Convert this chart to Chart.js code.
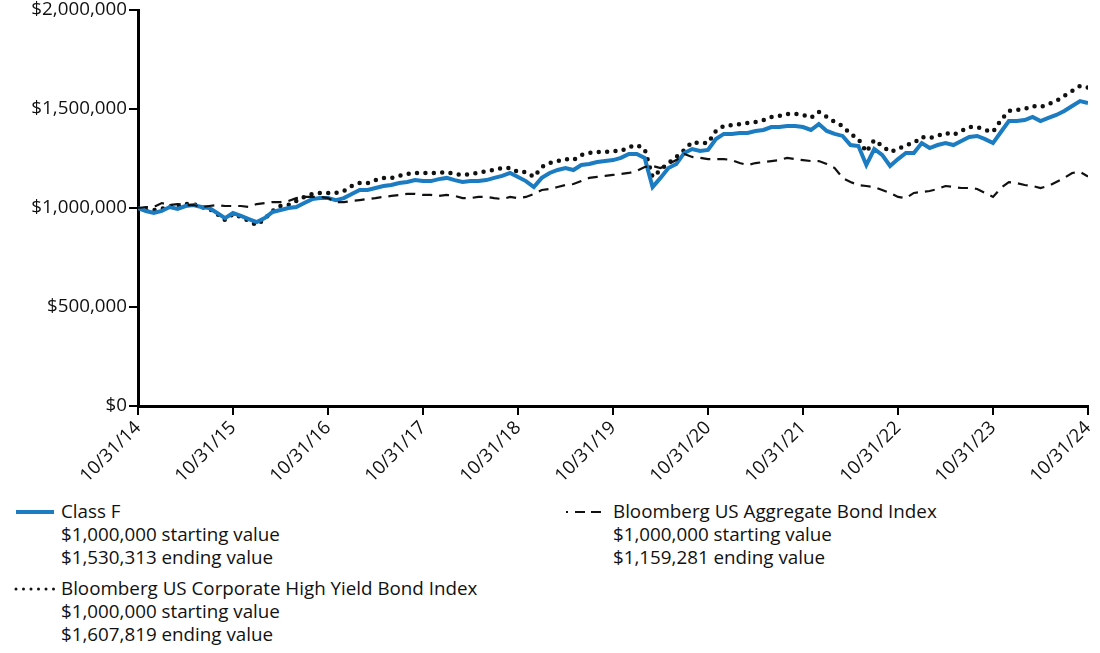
<!DOCTYPE html>
<html>
<head>
<meta charset="utf-8">
<script src="https://cdn.jsdelivr.net/npm/chart.js@4.4.1/dist/chart.umd.min.js"></script>
<style>
  body { margin: 0; background: #fff; font-family: 'Open Sans', sans-serif; }
  #wrap { position: relative; width: 1100px; height: 653px; }
  #chart { position: absolute; left: 0; top: 0; }
  .leg { position: absolute; font-size: 18.8px; line-height: 23px; color: #111; white-space: nowrap; }
  .sample { position: absolute; }
</style>
</head>
<body>
<div id="wrap">
  <canvas id="chart" width="1100" height="480"></canvas>

  <svg class="sample" style="left:0;top:502px" width="70" height="20">
    <line x1="16" y1="10" x2="54" y2="10" stroke="#1b7cc2" stroke-width="4"/>
  </svg>
  <div class="leg" style="left:61px;top:500px">Class F<br>$1,000,000 starting value<br>$1,530,313 ending value</div>

  <svg class="sample" style="left:0;top:579px" width="70" height="20">
    <line x1="16" y1="10" x2="54" y2="10" stroke="#111" stroke-width="3" stroke-linecap="round" stroke-dasharray="0 7.5"/>
  </svg>
  <div class="leg" style="left:61px;top:577px">Bloomberg US Corporate High Yield Bond Index<br>$1,000,000 starting value<br>$1,607,819 ending value</div>

  <svg class="sample" style="left:550px;top:502px" width="70" height="20">
    <line x1="16" y1="10" x2="18" y2="10" stroke="#111" stroke-width="2"/>
    <line x1="25" y1="10" x2="35" y2="10" stroke="#111" stroke-width="2"/>
    <line x1="41" y1="10" x2="51" y2="10" stroke="#111" stroke-width="2"/>
  </svg>
  <div class="leg" style="left:613px;top:500px">Bloomberg US Aggregate Bond Index<br>$1,000,000 starting value<br>$1,159,281 ending value</div>
</div>

<script>
// x tick labels, one per year (every 12 months)
const tickLabels = ['10/31/14', '10/31/15', '10/31/16', '10/31/17', '10/31/18', '10/31/19',
    '10/31/20', '10/31/21', '10/31/22', '10/31/23', '10/31/24'];

// monthly values, 10/31/14 .. 10/31/24 (121 points)
const classF = [
    1000000, 985000, 975000, 985000, 1005000, 995000, 1010000, 1015000, 1005000, 1000000,
    975000, 949000, 975000, 960000, 944000, 929000, 949000, 980000, 990000, 1000000,
    1005000, 1025000, 1045000, 1050000, 1050000, 1040000, 1050000, 1071000, 1091000, 1091000,
    1101000, 1111000, 1116000, 1126000, 1131000, 1141000, 1136000, 1136000, 1146000, 1152000,
    1141000, 1131000, 1136000, 1136000, 1141000, 1152000, 1162000, 1177000, 1157000, 1136000,
    1106000, 1152000, 1177000, 1192000, 1202000, 1192000, 1217000, 1222000, 1232000, 1237000,
    1242000, 1253000, 1273000, 1273000, 1253000, 1106000, 1152000, 1202000, 1222000, 1278000,
    1298000, 1288000, 1293000, 1348000, 1374000, 1374000, 1379000, 1379000, 1389000, 1394000,
    1409000, 1409000, 1414000, 1414000, 1409000, 1394000, 1424000, 1389000, 1374000, 1364000,
    1318000, 1313000, 1217000, 1298000, 1268000, 1212000, 1247000, 1278000, 1278000, 1328000,
    1303000, 1318000, 1328000, 1318000, 1338000, 1359000, 1364000, 1348000, 1328000, 1384000,
    1439000, 1439000, 1444000, 1460000, 1439000, 1455000, 1470000, 1490000, 1515000, 1540000,
    1530313
];

const hyIndex = [
    1000000, 990000, 990000, 995000, 1010000, 1005000, 1020000, 1020000, 1005000, 995000,
    970000, 939000, 970000, 955000, 934000, 914000, 944000, 985000, 1010000, 1015000,
    1035000, 1056000, 1071000, 1076000, 1076000, 1076000, 1086000, 1111000, 1126000, 1126000,
    1141000, 1152000, 1152000, 1162000, 1172000, 1177000, 1177000, 1177000, 1177000, 1182000,
    1172000, 1167000, 1172000, 1177000, 1187000, 1192000, 1202000, 1202000, 1182000, 1182000,
    1157000, 1207000, 1227000, 1237000, 1247000, 1242000, 1268000, 1278000, 1283000, 1283000,
    1288000, 1288000, 1308000, 1318000, 1298000, 1157000, 1192000, 1227000, 1258000, 1293000,
    1333000, 1328000, 1328000, 1389000, 1414000, 1419000, 1424000, 1429000, 1434000, 1444000,
    1460000, 1465000, 1475000, 1475000, 1470000, 1455000, 1485000, 1460000, 1434000, 1414000,
    1374000, 1348000, 1283000, 1343000, 1313000, 1283000, 1298000, 1318000, 1328000, 1359000,
    1354000, 1364000, 1379000, 1369000, 1389000, 1409000, 1409000, 1394000, 1384000, 1444000,
    1490000, 1495000, 1500000, 1515000, 1510000, 1525000, 1540000, 1566000, 1591000, 1616000,
    1607819
];

const aggIndex = [
    1000000, 1005000, 1005000, 1025000, 1015000, 1020000, 1015000, 1015000, 1005000, 1010000,
    1015000, 1010000, 1010000, 1010000, 1005000, 1020000, 1025000, 1030000, 1030000, 1035000,
    1050000, 1056000, 1056000, 1056000, 1050000, 1030000, 1030000, 1035000, 1040000, 1045000,
    1050000, 1056000, 1061000, 1066000, 1071000, 1071000, 1066000, 1066000, 1061000, 1066000,
    1061000, 1050000, 1050000, 1056000, 1056000, 1050000, 1045000, 1056000, 1050000, 1056000,
    1071000, 1091000, 1096000, 1106000, 1116000, 1121000, 1136000, 1152000, 1157000, 1162000,
    1167000, 1172000, 1177000, 1187000, 1207000, 1212000, 1202000, 1222000, 1242000, 1273000,
    1258000, 1253000, 1247000, 1247000, 1247000, 1242000, 1227000, 1217000, 1227000, 1232000,
    1237000, 1242000, 1253000, 1247000, 1242000, 1237000, 1237000, 1222000, 1202000, 1152000,
    1131000, 1116000, 1111000, 1106000, 1091000, 1076000, 1056000, 1050000, 1076000, 1081000,
    1086000, 1096000, 1111000, 1106000, 1101000, 1101000, 1096000, 1076000, 1056000, 1101000,
    1131000, 1126000, 1116000, 1111000, 1101000, 1111000, 1131000, 1152000, 1177000, 1182000,
    1159281
];

const FONT = "'Open Sans', sans-serif";

function toPoints(arr) {
    return arr.map((v, i) => ({ x: i, y: v }));
}

const ctx = document.getElementById('chart').getContext('2d');
const chart = new Chart(ctx, {
    type: 'line',
    data: {
        datasets: [{
            label: 'Bloomberg US Aggregate Bond Index',
            data: toPoints(aggIndex),
            borderColor: '#111',
            borderWidth: 2.2,
            borderDash: [10, 7],
            pointRadius: 0,
            order: 0
        }, {
            label: 'Class F',
            data: toPoints(classF),
            borderColor: '#1b7cc2',
            borderWidth: 4,
            pointRadius: 0,
            order: 1
        }, {
            label: 'Bloomberg US Corporate High Yield Bond Index',
            data: toPoints(hyIndex),
            borderColor: '#111',
            borderWidth: 4.5,
            borderDash: [0, 8.4],
            borderCapStyle: 'round',
            pointRadius: 0,
            order: 2
        }]
    },
    options: {
        responsive: false,
        animation: false,
        layout: { padding: { top: 10, right: 12, left: 0, bottom: 0 } },
        plugins: {
            legend: { display: false },
            tooltip: { enabled: false }
        },
        scales: {
            x: {
                type: 'linear',
                min: 0,
                max: 120,
                afterFit: (scale) => {
                    scale.height = 74;
                    scale.paddingRight = 0;
                    scale.paddingLeft = 0;
                },
                grid: { drawOnChartArea: false, color: '#000', lineWidth: 2, tickLength: 9 },
                border: { color: '#000', width: 3 },
                ticks: {
                    stepSize: 12,
                    autoSkip: false,
                    maxRotation: 45,
                    minRotation: 45,
                    padding: 2,
                    color: '#111',
                    font: { family: FONT, size: 18.5 },
                    callback: (v) => tickLabels[v / 12]
                }
            },
            y: {
                min: 0,
                max: 2000000,
                afterFit: (scale) => {
                    scale.width = 138;
                    scale.paddingTop = 0;
                    scale.paddingBottom = 0;
                },
                grid: { drawOnChartArea: false, color: '#000', lineWidth: 2, tickLength: 9 },
                border: { color: '#000', width: 3 },
                ticks: {
                    stepSize: 500000,
                    padding: 2,
                    color: '#111',
                    font: { family: FONT, size: 18.8 },
                    callback: (v) => '$' + v.toLocaleString('en-US')
                }
            }
        }
    }
});
</script>
</body>
</html>
